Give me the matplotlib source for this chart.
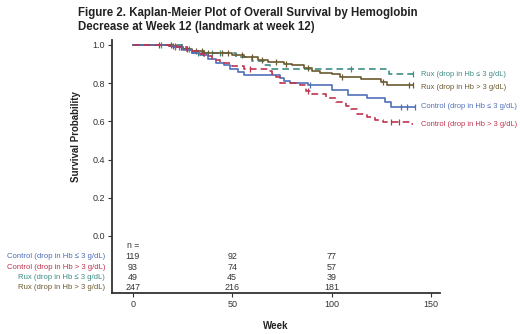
import matplotlib
matplotlib.use("Agg")
import matplotlib.pyplot as plt

plt.rcParams['font.family'] = ['Liberation Sans', 'DejaVu Sans']

# step curves: (week, survival) pairs, step happens at each week
rux_le3_wk = [0, 25, 30, 52, 60, 66, 69, 129, 141]
rux_le3_s = [1.0, 0.98, 0.959, 0.938, 0.917, 0.896, 0.875, 0.85, 0.85]
rux_le3_cens = [14, 28, 33, 36, 40, 44, 110, 141]

rux_gt3_wk = [0, 20, 22, 25, 30, 36, 42, 50, 56, 63, 68, 76, 80, 86, 90, 94, 100, 104, 115, 125, 128, 141]
rux_gt3_s = [1.0, 0.995, 0.99, 0.98, 0.97, 0.96, 0.955, 0.945, 0.935, 0.92, 0.91, 0.90, 0.895, 0.88,
             0.865, 0.855, 0.845, 0.83, 0.82, 0.805, 0.79, 0.79]
rux_gt3_cens = [13, 19, 21, 24, 27, 32, 35, 38, 45, 48, 55, 60, 65, 72, 77, 88, 105, 126, 139, 141]

ctl_le3_wk = [0, 18, 20, 25, 30, 34, 38, 42, 46, 49, 53, 56, 74, 76, 79, 88, 100, 108, 118, 127, 130, 142]
ctl_le3_s = [1.0, 0.995, 0.99, 0.975, 0.96, 0.945, 0.925, 0.905, 0.895, 0.875, 0.86, 0.843, 0.825,
             0.81, 0.80, 0.79, 0.764, 0.738, 0.72, 0.70, 0.677, 0.677]
ctl_le3_cens = [21, 23, 89, 135, 138, 142]

ctl_gt3_wk = [0, 18, 22, 27, 33, 36, 40, 44, 50, 56, 68, 70, 72, 74, 84, 87, 90, 97, 102, 107, 110,
              113, 118, 122, 126, 140, 141]
ctl_gt3_s = [1.0, 0.995, 0.99, 0.97, 0.95, 0.94, 0.92, 0.905, 0.89, 0.875, 0.865, 0.85, 0.83, 0.80,
             0.79, 0.76, 0.745, 0.72, 0.70, 0.68, 0.665, 0.64, 0.62, 0.605, 0.597, 0.585, 0.585]
ctl_gt3_cens = [20, 24, 59, 88, 130, 134]

labels = ['Rux (drop in Hb ≤ 3 g/dL)', 'Rux (drop in Hb > 3 g/dL)',
          'Control (drop in Hb ≤ 3 g/dL)', 'Control (drop in Hb > 3 g/dL)']
label_y = [0.845, 0.775, 0.68, 0.585]
colors = ['#3d8c85', '#6b5a30', '#4f6fb8', '#c0334f']
styles = [(0, (4, 2.5)), '-', '-', (0, (4, 2.5))]

# number at risk table
risk_weeks = [0, 50, 100]
risk_labels = ['Control (drop in Hb ≤ 3 g/dL)', 'Control (drop in Hb > 3 g/dL)',
               'Rux (drop in Hb ≤ 3 g/dL)', 'Rux (drop in Hb > 3 g/dL)']
risk_colors = ['#4f6fb8', '#c0334f', '#3d8c85', '#6b5a30']
risk_n = [[119, 92, 77], [93, 74, 57], [49, 45, 39], [247, 216, 181]]

fig = plt.figure(figsize=(5.2, 3.34), dpi=100)
ax = fig.add_axes([0.215, 0.123, 0.631, 0.757])

curves = [(rux_le3_wk, rux_le3_s, rux_le3_cens), (rux_gt3_wk, rux_gt3_s, rux_gt3_cens),
          (ctl_le3_wk, ctl_le3_s, ctl_le3_cens), (ctl_gt3_wk, ctl_gt3_s, ctl_gt3_cens)]
for (wk, s, cens), c, ls in zip(curves, colors, styles):
    ax.step(wk, s, where='post', color=c, lw=1.2, linestyle=ls)
    # censor ticks sit on the curve value at that time
    cy = []
    for t in cens:
        v = s[0]
        for w, sv in zip(wk, s):
            if w <= t:
                v = sv
        cy.append(v)
    ax.plot(cens, cy, linestyle='none', marker='|', color=c, ms=5, mew=0.9)

for lab, y, c in zip(labels, label_y, colors):
    ax.text(145, y, lab, color=c, fontsize=5.4, va='center', ha='left', clip_on=False)

ax.text(0, -0.052, 'n =', fontsize=6.2, ha='center', va='center', color='#333333')
row_y = [-0.11, -0.163, -0.215, -0.27]
for lab, c, ns, y in zip(risk_labels, risk_colors, risk_n, row_y):
    ax.text(-14, y, lab, color=c, fontsize=5.6, ha='right', va='center', clip_on=False)
    for w, n in zip(risk_weeks, ns):
        ax.text(w, y, str(n), fontsize=6.4, ha='center', va='center', color='#333333')

ax.set_xlim(-10.6, 154.5)
ax.set_ylim(-0.298, 1.025)
ax.set_xticks([0, 50, 100, 150])
ax.set_yticks([0.0, 0.2, 0.4, 0.6, 0.8, 1.0])
ax.set_yticklabels(['0.0', '0.2', '0.4', '0.6', '0.8', '1.0'])
ax.tick_params(labelsize=6.5, length=3, width=0.8, color='#333333', labelcolor='#333333', pad=2)
for side in ['top', 'right']:
    ax.spines[side].set_visible(False)
for side in ['left', 'bottom']:
    ax.spines[side].set_linewidth(1.3)
    ax.spines[side].set_color('#333333')

ax.set_xlabel('Week', fontsize=7, fontweight='bold', color='#222222')
ax.xaxis.set_label_coords(0.5, -0.11)
ax.set_ylabel('Survival Probability', fontsize=7, fontweight='bold', color='#222222')
ax.yaxis.set_label_coords(-0.095, 0.62)

fig.text(0.15, 0.978, 'Figure 2. Kaplan-Meier Plot of Overall Survival by Hemoglobin\n'
         'Decrease at Week 12 (landmark at week 12)',
         fontsize=8.3, fontweight='bold', ha='left', va='top', color='#222222', linespacing=1.2)

fig.savefig('out.png', dpi=100)
